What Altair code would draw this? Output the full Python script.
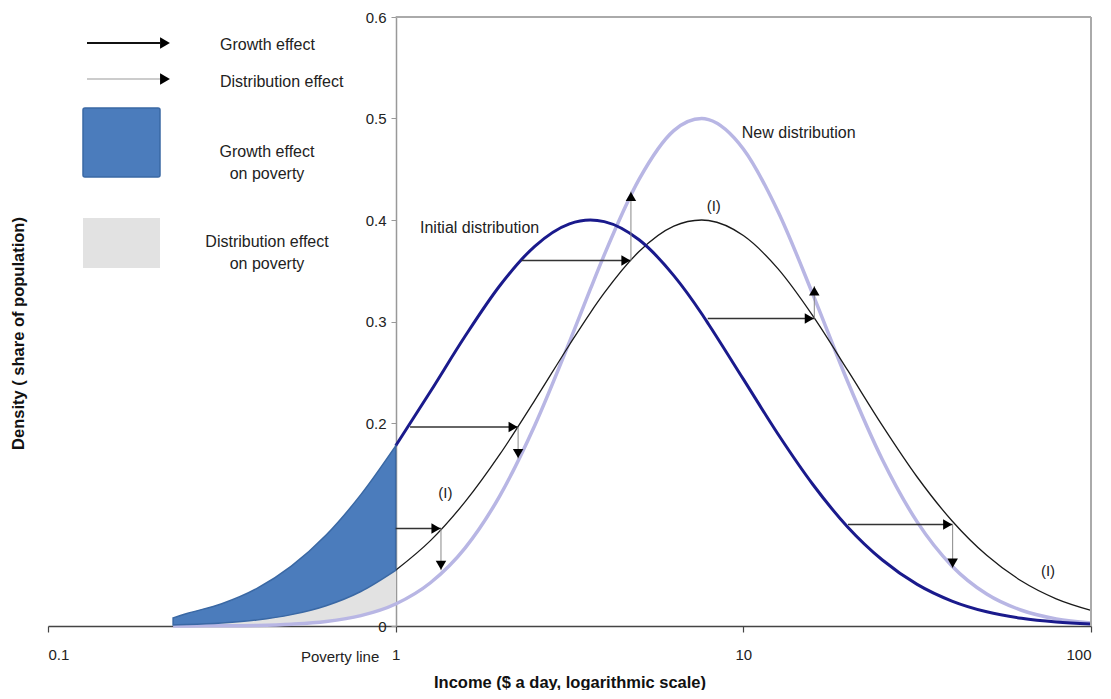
import altair as alt
import pandas as pd

# ---------------- data ----------------
income = [0.229, 0.251, 0.316, 0.398, 0.501, 0.631, 0.794, 1.0, 1.259, 1.585,
          1.995, 2.512, 3.162, 3.63, 3.981, 5.012, 6.31, 7.59, 7.943, 10.0,
          12.59, 15.85, 19.95, 25.12, 31.62, 39.81, 50.12, 63.1, 79.43, 100.0]
initial_dist = [0.008, 0.0123, 0.0219, 0.0368, 0.0590, 0.0896, 0.1294, 0.1775, 0.2310, 0.2857,
                0.3355, 0.3741, 0.3962, 0.4000, 0.3984, 0.3805, 0.3452, 0.3076, 0.2973, 0.2432,
                0.1889, 0.1394, 0.0976, 0.0650, 0.0410, 0.0246, 0.0140, 0.0076, 0.0039, 0.0019]
growth_dist = [0.0010, 0.0014, 0.0030, 0.0059, 0.0112, 0.0200, 0.0340, 0.0549, 0.0841, 0.1225,
               0.1693, 0.2223, 0.2771, 0.3086, 0.3281, 0.3689, 0.3939, 0.4000, 0.3995, 0.3847,
               0.3518, 0.3055, 0.2520, 0.1974, 0.1468, 0.1037, 0.0696, 0.0443, 0.0268, 0.0154]
new_dist = [0.0000, 0.0001, 0.0002, 0.0006, 0.0018, 0.0044, 0.0102, 0.0217, 0.0426, 0.0770,
            0.1285, 0.1976, 0.2799, 0.3318, 0.3656, 0.4400, 0.4881, 0.5000, 0.4989, 0.4700,
            0.4082, 0.3267, 0.2409, 0.1638, 0.1026, 0.0592, 0.0315, 0.0155, 0.0070, 0.0029]

poverty_line = 1.0

# growth-effect arrows (horizontal) and distribution-effect arrows (vertical)
arrow_y = [0.096, 0.196, 0.360, 0.303, 0.100]
arrow_x_from = [1.0, 1.10, 2.30, 7.90, 20.0]
arrow_x_to = [1.35, 2.25, 4.75, 16.0, 40.0]
dist_y_to = [0.055, 0.165, 0.428, 0.335, 0.057]

# annotations
ann_text = ["Initial distribution", "New distribution", "(I)", "(I)", "(I)"]
ann_x = [1.175, 9.9, 8.22, 1.39, 75.2]
ann_y = [0.392, 0.486, 0.414, 0.131, 0.054]
ann_align = ["left", "left", "center", "center", "center"]

x_ticks = [0.1, 1, 10, 100]
y_ticks = [0, 0.1, 0.2, 0.3, 0.4, 0.5, 0.6]
x_domain = [0.1, 100]
y_domain = [0, 0.6]

legend_labels = ["Growth effect", "Distribution effect",
                 "Growth effect\non poverty", "Distribution effect\non poverty"]

# ---------------- styles ----------------
W, H = 1043, 609
FONT = "Liberation Sans, Arial, Helvetica, sans-serif"
NAVY = "#1a1a8c"
LAV = "#b8b6e4"
BLUE = "#4b7cbc"
BLUE_EDGE = "#3a68a4"
DOTS = "#e2e2e2"

df = pd.DataFrame({"income": income, "initial": initial_dist,
                   "growth": growth_dist, "new": new_dist})
arrows = pd.DataFrame({"y": arrow_y, "x0": arrow_x_from, "x1": arrow_x_to, "y1": dist_y_to})
arrows["up"] = arrows["y1"] > arrows["y"]
ann = pd.DataFrame({"x": ann_x, "y": ann_y, "t": ann_text, "a": ann_align})

xscale = alt.Scale(type="log", domain=x_domain, nice=False)
yscale = alt.Scale(domain=y_domain, nice=False, zero=False)

x_axis = alt.Axis(values=x_ticks, format="~g", grid=False,
                  title="Income ($ a day, logarithmic scale)",
                  domainColor="#444", domainWidth=1.5, tickColor="#444", tickWidth=1.2,
                  tickSize=6, labelPadding=15, labelFontSize=15, labelColor="#222",
                  labelFont=FONT, titleFont=FONT, titleFontSize=16.5, titleFontWeight="bold",
                  titleColor="#111", titleY=56, titleBaseline="middle")
y_axis = alt.Axis(values=y_ticks, format="~g", grid=False,
                  title="Density ( share of population)",
                  offset=-348, domainColor="#999", domainWidth=1.5, tickColor="#999",
                  tickSize=5, labelPadding=5, labelFontSize=15, labelColor="#222",
                  labelFont=FONT, titleFont=FONT, titleFontSize=16.5, titleFontWeight="bold",
                  titleColor="#111", titleX=-378, titleY=316, titleBaseline="middle",
                  titleAlign="center", titleAngle=270)


def X(field, **kw):
    return alt.X(field, type="quantitative", scale=xscale, axis=x_axis, **kw)


def Y(field, **kw):
    return alt.Y(field, type="quantitative", scale=yscale, axis=y_axis, **kw)


base = alt.Chart(df)

dotted = base.transform_filter(alt.datum.income <= poverty_line).mark_area(
    color=DOTS, interpolate="monotone").encode(x=X("income"), y=Y("growth"), y2="new")

lav_line = base.mark_line(color=LAV, strokeWidth=3.5, interpolate="monotone").encode(
    x=X("income"), y=Y("new"))
black_line = base.transform_filter(alt.datum.income >= poverty_line).mark_line(
    color="#1a1a1a", strokeWidth=1.3, interpolate="monotone").encode(x=X("income"), y=Y("growth"))
navy_line = base.transform_filter(alt.datum.income >= poverty_line).mark_line(
    color=NAVY, strokeWidth=3, interpolate="monotone").encode(x=X("income"), y=Y("initial"))

blue_area = base.transform_filter(alt.datum.income <= poverty_line).mark_area(
    color=BLUE, stroke=BLUE_EDGE, strokeWidth=1.5, interpolate="monotone").encode(
    x=X("income"), y=Y("initial"), y2="growth")

# frame (top and right)
frame = pd.DataFrame({"x0": [poverty_line], "x1": [x_domain[1]], "y0": [y_domain[0]], "y1": [y_domain[1]]})
top_rule = alt.Chart(frame).mark_rule(color="#aaa", strokeWidth=2).encode(
    x=X("x0"), x2="x1", y=Y("y1"))
right_rule = alt.Chart(frame).mark_rule(color="#aaa", strokeWidth=2).encode(
    x=X("x1"), y=Y("y0"), y2="y1")

ac = alt.Chart(arrows)
g_lines = ac.mark_rule(color="#333", strokeWidth=1.5).encode(x=X("x0"), x2="x1", y=Y("y"))
g_heads = ac.mark_point(shape="triangle-right", filled=True, size=110, color="black",
                        opacity=1, xOffset=-5).encode(x=X("x1"), y=Y("y"))
d_lines = ac.mark_rule(color="#888", strokeWidth=1).encode(x=X("x1"), y=Y("y"), y2="y1")
d_up = ac.transform_filter(alt.datum.up).mark_point(
    shape="triangle-up", filled=True, size=110, color="black", opacity=1, yOffset=5).encode(
    x=X("x1"), y=Y("y1"))
d_down = ac.transform_filter(~alt.datum.up).mark_point(
    shape="triangle-down", filled=True, size=110, color="black", opacity=1, yOffset=-5).encode(
    x=X("x1"), y=Y("y1"))

ann_left = alt.Chart(ann).transform_filter(alt.datum.a == "left").mark_text(
    align="left", baseline="middle", font=FONT, fontSize=16, color="#222").encode(
    x=X("x"), y=Y("y"), text="t:N")
ann_center = alt.Chart(ann).transform_filter(alt.datum.a == "center").mark_text(
    align="center", baseline="middle", font=FONT, fontSize=15, color="#222").encode(
    x=X("x"), y=Y("y"), text="t:N")

pov = alt.Chart(pd.DataFrame({"x": [0.692], "t": ["Poverty line"]})).mark_text(
    align="center", baseline="middle", font=FONT, fontSize=15, color="#222").encode(
    x=X("x"), y=alt.value(H + 31), text="t:N")

# ---------------- legend (drawn in the top-left corner) ----------------
one = alt.Chart(pd.DataFrame({"k": [0]}))
leg = [
    one.mark_rule(color="#111", strokeWidth=2).encode(x=alt.value(39), x2=alt.value(112), y=alt.value(26)),
    one.mark_point(shape="triangle-right", filled=True, size=130, color="black", opacity=1).encode(
        x=alt.value(117), y=alt.value(26)),
    one.mark_rule(color="#999", strokeWidth=1).encode(x=alt.value(39), x2=alt.value(112), y=alt.value(62)),
    one.mark_point(shape="triangle-right", filled=True, size=130, color="black", opacity=1).encode(
        x=alt.value(117), y=alt.value(62)),
    one.mark_rect(color=BLUE, stroke=BLUE_EDGE, strokeWidth=1.5, cornerRadius=2).encode(
        x=alt.value(35), x2=alt.value(112), y=alt.value(91), y2=alt.value(160)),
    one.mark_rect(color=DOTS).encode(
        x=alt.value(35), x2=alt.value(112), y=alt.value(201), y2=alt.value(251)),
    one.mark_text(align="left", baseline="middle", font=FONT, fontSize=16, color="#222").encode(
        x=alt.value(172), y=alt.value(28), text=alt.value(legend_labels[0])),
    one.mark_text(align="left", baseline="middle", font=FONT, fontSize=16, color="#222").encode(
        x=alt.value(172), y=alt.value(65), text=alt.value(legend_labels[1])),
    one.mark_text(align="center", baseline="middle", font=FONT, fontSize=16, color="#222",
                  lineBreak="\n", lineHeight=22).encode(
        x=alt.value(219), y=alt.value(135), text=alt.value(legend_labels[2])),
    one.mark_text(align="center", baseline="middle", font=FONT, fontSize=16, color="#222",
                  lineBreak="\n", lineHeight=22).encode(
        x=alt.value(219), y=alt.value(225), text=alt.value(legend_labels[3])),
]

chart = alt.layer(
    dotted, lav_line, black_line, navy_line, blue_area,
    top_rule, right_rule,
    g_lines, d_lines, g_heads, d_up, d_down,
    ann_left, ann_center, pov, *leg
).properties(
    width=W, height=H,
    padding={"left": 40, "top": 9, "right": 10, "bottom": 64},
    autosize=alt.AutoSizeParams(type="none"),
    background="white",
).configure_view(stroke=None)

chart.save("out.html", embed_options={"renderer": "svg", "actions": False})
